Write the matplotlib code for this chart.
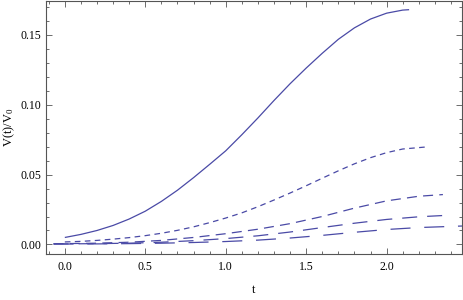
import matplotlib
matplotlib.use("Agg")
import matplotlib.pyplot as plt
from matplotlib.ticker import MultipleLocator

plt.rcParams['font.family'] = ['Liberation Serif', 'DejaVu Serif']
plt.rcParams['mathtext.fontset'] = 'custom'
plt.rcParams['mathtext.rm'] = 'Liberation Serif'
plt.rcParams['mathtext.it'] = 'Liberation Serif'

# Curve 1 (solid)
t1 = [0.0, 0.1, 0.2, 0.3, 0.4, 0.5, 0.6, 0.7, 0.8, 0.9, 1.0, 1.1, 1.2, 1.3,
      1.4, 1.5, 1.6, 1.7, 1.8, 1.9, 2.0, 2.1, 2.14]
v1 = [0.0050, 0.0072, 0.0100, 0.0136, 0.0182, 0.0238, 0.0308, 0.0388, 0.0478,
      0.0573, 0.0670, 0.0785, 0.0905, 0.1030, 0.1150, 0.1262, 0.1368, 0.1468,
      0.1550, 0.1613, 0.1655, 0.1677, 0.1680]

# Curve 2 (short dashes)
t2 = [0.0, 0.1, 0.2, 0.3, 0.4, 0.5, 0.6, 0.7, 0.8, 0.9, 1.0, 1.1, 1.2, 1.3,
      1.4, 1.5, 1.6, 1.7, 1.8, 1.9, 2.0, 2.1, 2.24]
v2 = [0.0018, 0.0022, 0.0029, 0.0038, 0.0049, 0.0063, 0.0080, 0.0101, 0.0126,
      0.0156, 0.0189, 0.0226, 0.0270, 0.0318, 0.0368, 0.0420, 0.0474, 0.0527,
      0.0577, 0.0621, 0.0657, 0.0683, 0.0697]

# Curve 3 (medium dashes)
t3 = [-0.07, 0.0, 0.2, 0.4, 0.6, 0.8, 1.0, 1.2, 1.4, 1.6, 1.8, 2.0, 2.2, 2.35]
v3 = [0.0005, 0.0006, 0.0009, 0.0016, 0.0029, 0.0050, 0.0077, 0.0109, 0.0149,
      0.0200, 0.0260, 0.0312, 0.0345, 0.0357]

# Curve 4 (long dashes)
t4 = [-0.07, 0.0, 0.2, 0.4, 0.6, 0.8, 1.0, 1.2, 1.4, 1.6, 1.8, 2.0, 2.2, 2.35]
v4 = [0.0004, 0.0004, 0.0006, 0.0009, 0.0016, 0.0027, 0.0042, 0.0062, 0.0089,
      0.0121, 0.0152, 0.0179, 0.0198, 0.0207]

# Curve 5 (longest dashes)
t5 = [-0.07, 0.0, 0.2, 0.4, 0.6, 0.8, 1.0, 1.2, 1.4, 1.6, 1.8, 2.0, 2.2, 2.47]
v5 = [0.0003, 0.0003, 0.0004, 0.0006, 0.0009, 0.0014, 0.0021, 0.0031, 0.0046,
      0.0065, 0.0087, 0.0107, 0.0121, 0.0132]

xticks = [0.0, 0.5, 1.0, 1.5, 2.0]
yticks = [0.00, 0.05, 0.10, 0.15]

color = '#4a4aa6'
fig = plt.figure(figsize=(4.63, 3.00), dpi=100)
ax = fig.add_axes([0.0983, 0.153, 0.9, 0.845])

ax.plot(t1, v1, color=color, lw=0.9, solid_capstyle='butt')
ax.plot(t2, v2, color=color, lw=0.9, dashes=(4.5, 3.5))
ax.plot(t3, v3, color=color, lw=0.9, dashes=(8, 5))
ax.plot(t4, v4, color=color, lw=0.9, dashes=(12, 8))
ax.plot(t5, v5, color=color, lw=0.9, dashes=(16, 11))

ax.set_xlim(-0.12, 2.47)
ax.set_ylim(-0.0069, 0.1745)

ax.set_xticks(xticks)
ax.set_xticklabels([f"{x:.1f}" for x in xticks])
ax.set_yticks(yticks)
ax.set_yticklabels([f"{y:.2f}" for y in yticks])
ax.xaxis.set_minor_locator(MultipleLocator(0.1))
ax.yaxis.set_minor_locator(MultipleLocator(0.01))

frame_col = '#555555'
for s in ax.spines.values():
    s.set_color(frame_col)
    s.set_linewidth(0.8)
ax.tick_params(which='both', direction='in', top=True, right=True,
               color=frame_col, width=0.6, labelsize=8.5)
ax.tick_params(axis='x', pad=5)
ax.tick_params(axis='y', pad=3)
ax.tick_params(which='major', length=4.5)
ax.tick_params(which='minor', length=2.5)

ax.set_xlabel('t', fontsize=9, labelpad=8)
ax.set_ylabel(r'V(t)/V$_{\mathregular{0}}$', fontsize=9)
ax.yaxis.set_label_coords(-0.068, 0.5)

fig.savefig('out.png', dpi=100)
